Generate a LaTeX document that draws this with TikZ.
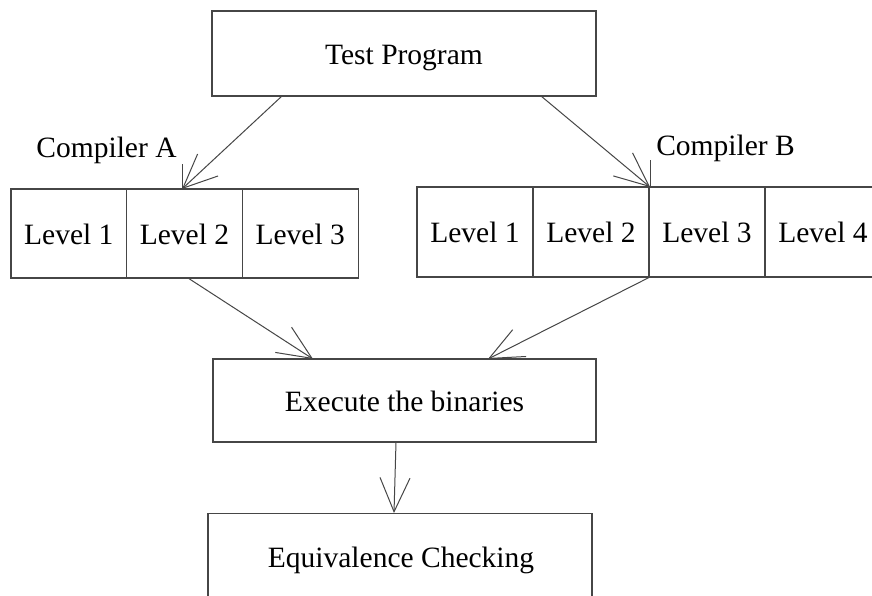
\documentclass[tikz,border=0pt]{standalone}
\usepackage{fontspec}
\setmainfont{Liberation Serif}
\usetikzlibrary{arrows.meta}
\definecolor{edge}{RGB}{70,70,70}
\begin{document}
\begin{tikzpicture}[x=1pt,y=-1pt,
  every node/.style={font=\fontsize{29.5}{34}\selectfont, text=black, text height=22pt, text depth=1pt},
  box/.style={draw=edge, line width=1.1pt, rectangle, inner sep=0pt},
  conn/.style={draw=edge, line width=1pt, -{Straight Barb[length=34pt,width=30pt,line width=1pt]}},
  tick/.style={draw=edge, line width=1pt}]
\useasboundingbox (0,0) rectangle (872,595);
\clip (0,0) rectangle (872,595);
\fill[white] (0,0) rectangle (872,595);
% Test Program
\node[box, minimum width=384pt, minimum height=85pt] (tp) at (404,53.5) {Test Program};
% Compiler A group
\node[box, minimum width=115.7pt, minimum height=89pt] (a1) at (68.8,233.5) {Level 1};
\node[box, minimum width=115.7pt, minimum height=89pt] (a2) at (184.5,233.5) {Level 2};
\node[box, minimum width=115.7pt, minimum height=89pt] (a3) at (300.2,233.5) {Level 3};
% Compiler B group
\node[box, minimum width=116pt, minimum height=90pt] (b1) at (475,232) {Level 1};
\node[box, minimum width=116pt, minimum height=90pt] (b2) at (591,232) {Level 2};
\node[box, minimum width=116pt, minimum height=90pt] (b3) at (707,232) {Level 3};
\node[box, minimum width=116pt, minimum height=90pt] (b4) at (823,232) {Level 4};
% Labels
\node (ca) at (106.5,147) {Compiler A};
\node (cb) at (725.5,145) {Compiler B};
% Execute
\node[box, minimum width=383pt, minimum height=83pt] (ex) at (404.5,400.5) {Execute the binaries};
% Equivalence
\node[box, minimum width=384pt, minimum height=110pt, anchor=north] (eq) at (400,513) {};
\node (eqt) at (401,557) {Equivalence Checking};
% tick marks
\coordinate (ta) at (182,189);
\coordinate (tat) at (182,164);
\coordinate (tb) at (650,187);
\coordinate (tbt) at (650,160);
\draw[tick] (tat) -- (ta);
\draw[tick] (tbt) -- (tb);
% connectors
\coordinate (tpa) at (282,96);
\coordinate (tpb) at (541,96);
\draw[conn] (tpa) -- (ta);
\draw[conn] (tpb) -- (tb);
\coordinate (a2b) at (188,278);
\coordinate (b3b) at (650,277);
\coordinate (exa) at (313,359);
\coordinate (exb) at (488,359);
\draw[conn] (a2b) -- (exa);
\draw[conn] (b3b) -- (exb);
\coordinate (exs) at (396,442);
\coordinate (eqn) at (394,513);
\draw[conn] (exs) -- (eqn);
\end{tikzpicture}
\end{document}
